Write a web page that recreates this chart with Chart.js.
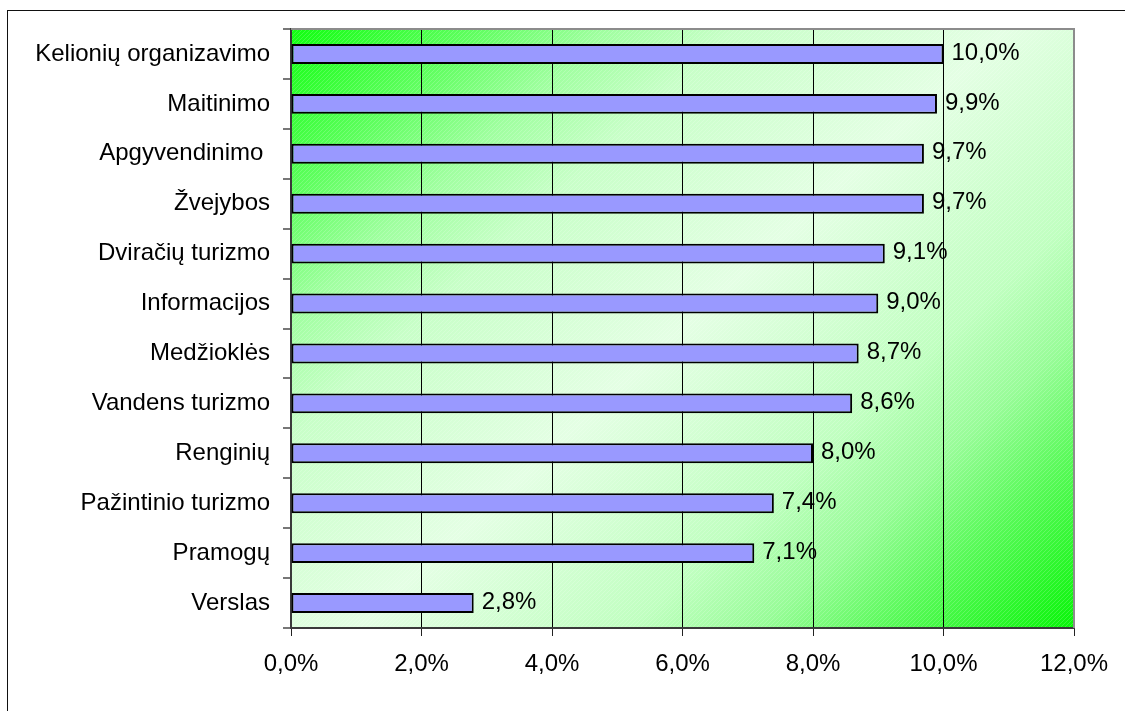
<!DOCTYPE html>
<html lang="lt">
<head>
<meta charset="utf-8">
<title>Paslaugos</title>
<script src="https://cdn.jsdelivr.net/npm/chart.js@4/dist/chart.umd.min.js"></script>
<style>
    body { margin: 0; background: #fff; }
    #rem { position: absolute; left: 7px; top: 10px; width: 1200px; height: 800px; border-left: 1px solid #111; border-top: 1px solid #111; pointer-events: none; }
    canvas { position: absolute; left: 0; top: 0; }
</style>
</head>
<body>
<canvas id="canvasPaslaugos" width="1125" height="711"></canvas>
<div id="rem"></div>
<script>
//Duomenys
const kategorijos = ['Kelionių organizavimo', 'Maitinimo', 'Apgyvendinimo ', 'Žvejybos', 'Dviračių turizmo', 'Informacijos',
    'Medžioklės', 'Vandens turizmo', 'Renginių', 'Pažintinio turizmo', 'Pramogų', 'Verslas'];
const reiksmes = [10.0, 9.9, 9.7, 9.7, 9.1, 9.0, 8.7, 8.6, 8.0, 7.4, 7.1, 2.8];
const asiesMin = 0;
const asiesMax = 12;
const asiesZingsnis = 2;

const procentai = v => v.toFixed(1).replace('.', ',') + '%';
const sriftas = '"Liberation Sans", Arial, sans-serif';

//Fonas: zalias gradientas su smulkiu istrizu brukšniavimu
const fonas = {
    id: 'fonas',
    beforeDraw(chart) {
        const { ctx, chartArea: a } = chart;
        const w = a.right - a.left, h = a.bottom - a.top;
        // gradiento kryptis beveik 45 laipsniu kampu
        const nx = 599 / 884, ny = 650 / 884;
        const ilgis = w * nx + h * ny;
        const g = ctx.createLinearGradient(a.left, a.top, a.left + nx * ilgis, a.top + ny * ilgis);
        g.addColorStop(0, '#10ff10');
        g.addColorStop(0.13, '#60ff60');
        g.addColorStop(0.22, '#a0ffa0');
        g.addColorStop(0.31, '#c8ffc8');
        g.addColorStop(0.5, '#e4ffe4');
        g.addColorStop(0.69, '#c0ffc0');
        g.addColorStop(0.78, '#98fc98');
        g.addColorStop(0.87, '#58fa58');
        g.addColorStop(1, '#08f508');
        ctx.save();
        ctx.fillStyle = g;
        ctx.fillRect(a.left, a.top, w, h);

        const p = document.createElement('canvas');
        p.width = 4; p.height = 4;
        const pc = p.getContext('2d');
        pc.strokeStyle = 'rgba(255,255,255,0.18)';
        pc.lineWidth = 1;
        pc.beginPath();
        pc.moveTo(0, 4); pc.lineTo(4, 0);
        pc.stroke();
        ctx.fillStyle = ctx.createPattern(p, 'repeat');
        ctx.fillRect(a.left, a.top, w, h);
        ctx.restore();
    },
    beforeDatasetsDraw(chart) {
        //pilkas remelis virsuje ir desineje
        const { ctx, chartArea: a } = chart;
        ctx.save();
        ctx.strokeStyle = '#8c8c8c';
        ctx.lineWidth = 2;
        ctx.beginPath();
        ctx.moveTo(a.left, a.top);
        ctx.lineTo(a.right, a.top);
        ctx.lineTo(a.right, a.bottom);
        ctx.stroke();
        ctx.restore();
    }
};

//Reiksmes prie stulpeliu galu
const reiksmiuZymes = {
    id: 'reiksmiuZymes',
    afterDatasetsDraw(chart) {
        const { ctx } = chart;
        const meta = chart.getDatasetMeta(0);
        ctx.save();
        ctx.font = '24px ' + sriftas;
        ctx.fillStyle = '#000';
        ctx.textAlign = 'left';
        ctx.textBaseline = 'middle';
        meta.data.forEach((bar, i) => {
            ctx.fillText(procentai(reiksmes[i]), bar.x + 8, bar.y - 1);
        });
        ctx.restore();
    }
};

const ctx = document.getElementById('canvasPaslaugos').getContext('2d');
window.grafikas = new Chart(ctx, {
    type: 'bar',
    data: {
        labels: kategorijos,
        datasets: [{
            data: reiksmes,
            backgroundColor: '#9999ff',
            borderColor: '#000',
            borderWidth: 2,
            borderSkipped: false,
            barPercentage: 0.4,
            categoryPercentage: 1
        }]
    },
    options: {
        indexAxis: 'y',
        responsive: false,
        animation: false,
        layout: { padding: { top: 29, right: 51, bottom: 0, left: 0 } },
        plugins: {
            legend: { display: false },
            tooltip: { enabled: false }
        },
        scales: {
            x: {
                min: asiesMin,
                max: asiesMax,
                afterFit: s => { s.height = 83; },
                ticks: {
                    stepSize: asiesZingsnis,
                    color: '#000',
                    font: { size: 24, family: sriftas },
                    padding: 14,
                    callback: v => procentai(v)
                },
                grid: {
                    color: c => (c.tick && (c.tick.value === asiesMin || c.tick.value === asiesMax)) ? 'rgba(0,0,0,0)' : '#000',
                    lineWidth: 1,
                    tickLength: 8,
                    tickColor: '#222'
                },
                border: { color: '#3a3a3a', width: 2 }
            },
            y: {
                afterFit: s => { s.width = 291; },
                ticks: {
                    color: '#000',
                    font: { size: 24, family: sriftas },
                    padding: 13
                },
                grid: {
                    drawOnChartArea: false,
                    offset: true,
                    tickLength: 8,
                    tickColor: '#777',
                    lineWidth: 2
                },
                border: { color: '#3a3a3a', width: 2 }
            }
        }
    },
    plugins: [fonas, reiksmiuZymes]
});
</script>
</body>
</html>
